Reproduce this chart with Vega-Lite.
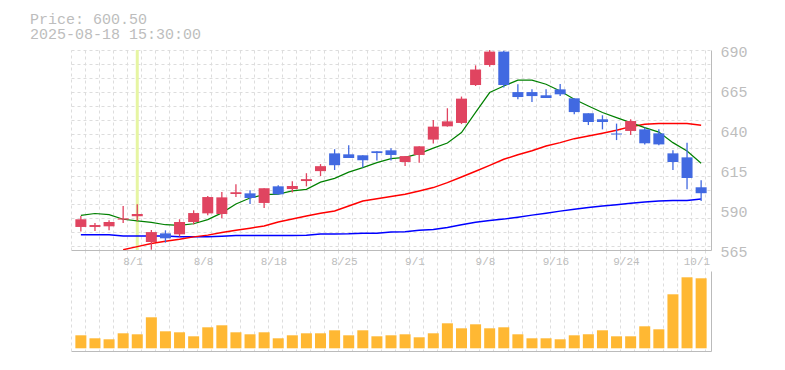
{
  "$schema": "https://vega.github.io/schema/vega-lite/v6.json",
  "padding": {"left": 30, "top": 11, "right": 5, "bottom": 5},
  "title": {"text": ["Price: 600.50", "2025-08-18 15:30:00"], "anchor": "start", "frame": "group", "dx": -41, "offset": 3, "font": "Liberation Mono", "fontSize": 15, "fontWeight": "normal", "color": "#bdbdbd", "lineHeight": 15},
  "config": {"view": {"stroke": null}},
  "spacing": 0,
  "data": {"values": [
    {"d": "7/28", "o": 579.4, "h": 586.3, "l": 576.5, "c": 584.2, "m5": 586.7, "m25": null, "m75": 574.6, "v": 260},
    {"d": "7/29", "o": 579.4, "h": 581.9, "l": 576.9, "c": 580.6, "m5": 587.8, "m25": null, "m75": 574.6, "v": 200},
    {"d": "7/30", "o": 579.8, "h": 583.6, "l": 577.3, "c": 582.5, "m5": 587.1, "m25": null, "m75": 574.5, "v": 180},
    {"d": "7/31", "o": 584.0, "h": 592.5, "l": 581.9, "c": 584.8, "m5": 584.2, "m25": 565.2, "m75": 573.8, "v": 300},
    {"d": "8/1", "o": 586.1, "h": 593.6, "l": 583.1, "c": 587.5, "m5": 583.2, "m25": 567.1, "m75": 573.8, "v": 280},
    {"d": "8/4", "o": 570.0, "h": 577.5, "l": 565.2, "c": 576.2, "m5": 582.3, "m25": 569.0, "m75": 573.7, "v": 620},
    {"d": "8/5", "o": 575.4, "h": 577.3, "l": 569.6, "c": 572.3, "m5": 580.8, "m25": 570.4, "m75": 573.7, "v": 340},
    {"d": "8/6", "o": 574.8, "h": 584.2, "l": 573.4, "c": 582.5, "m5": 580.4, "m25": 571.7, "m75": 573.3, "v": 320},
    {"d": "8/7", "o": 582.5, "h": 589.8, "l": 581.0, "c": 588.1, "m5": 581.4, "m25": 573.2, "m75": 573.3, "v": 240},
    {"d": "8/8", "o": 587.9, "h": 598.7, "l": 586.7, "c": 598.1, "m5": 584.0, "m25": 574.3, "m75": 573.3, "v": 420},
    {"d": "8/12", "o": 587.5, "h": 601.2, "l": 584.8, "c": 597.9, "m5": 588.2, "m25": 575.9, "m75": 573.6, "v": 460},
    {"d": "8/13", "o": 600.0, "h": 606.1, "l": 598.1, "c": 601.1, "m5": 593.8, "m25": 577.3, "m75": 574.0, "v": 320},
    {"d": "8/14", "o": 600.4, "h": 602.4, "l": 593.7, "c": 597.5, "m5": 597.5, "m25": 578.6, "m75": 574.0, "v": 280},
    {"d": "8/15", "o": 594.4, "h": 603.6, "l": 591.2, "c": 603.6, "m5": 599.6, "m25": 580.0, "m75": 574.0, "v": 320},
    {"d": "8/18", "o": 604.8, "h": 605.5, "l": 599.5, "c": 599.8, "m5": 599.9, "m25": 582.5, "m75": 574.0, "v": 200},
    {"d": "8/19", "o": 603.1, "h": 608.0, "l": 600.9, "c": 605.0, "m5": 601.9, "m25": 584.4, "m75": 574.0, "v": 260},
    {"d": "8/20", "o": 608.1, "h": 613.0, "l": 604.8, "c": 609.3, "m5": 602.9, "m25": 586.2, "m75": 574.2, "v": 300},
    {"d": "8/21", "o": 614.3, "h": 618.7, "l": 611.2, "c": 617.4, "m5": 607.4, "m25": 587.9, "m75": 575.0, "v": 300},
    {"d": "8/22", "o": 625.4, "h": 628.0, "l": 615.0, "c": 618.0, "m5": 609.8, "m25": 589.4, "m75": 575.0, "v": 360},
    {"d": "8/25", "o": 624.8, "h": 630.4, "l": 622.5, "c": 622.5, "m5": 613.7, "m25": 592.5, "m75": 575.1, "v": 260},
    {"d": "8/26", "o": 624.2, "h": 624.2, "l": 616.5, "c": 621.1, "m5": 616.5, "m25": 595.6, "m75": 575.4, "v": 360},
    {"d": "8/27", "o": 626.7, "h": 626.7, "l": 620.9, "c": 625.6, "m5": 619.6, "m25": 597.1, "m75": 575.5, "v": 240},
    {"d": "8/28", "o": 627.3, "h": 628.6, "l": 620.9, "c": 624.4, "m5": 622.1, "m25": 598.4, "m75": 576.2, "v": 260},
    {"d": "8/29", "o": 620.0, "h": 623.7, "l": 617.5, "c": 623.7, "m5": 622.9, "m25": 599.8, "m75": 576.4, "v": 280},
    {"d": "9/1", "o": 624.4, "h": 629.8, "l": 619.6, "c": 629.8, "m5": 625.2, "m25": 601.9, "m75": 577.3, "v": 220},
    {"d": "9/2", "o": 634.0, "h": 646.2, "l": 631.5, "c": 642.1, "m5": 628.7, "m25": 604.0, "m75": 577.8, "v": 300},
    {"d": "9/3", "o": 642.3, "h": 653.6, "l": 642.1, "c": 645.4, "m5": 631.9, "m25": 607.1, "m75": 579.0, "v": 500},
    {"d": "9/4", "o": 644.4, "h": 660.9, "l": 643.7, "c": 659.6, "m5": 638.4, "m25": 610.6, "m75": 580.8, "v": 400},
    {"d": "9/5", "o": 668.1, "h": 680.4, "l": 667.5, "c": 677.8, "m5": 651.0, "m25": 614.2, "m75": 582.3, "v": 480},
    {"d": "9/8", "o": 680.6, "h": 690.0, "l": 679.6, "c": 689.0, "m5": 663.4, "m25": 617.9, "m75": 583.4, "v": 400},
    {"d": "9/9", "o": 689.0, "h": 689.5, "l": 666.5, "c": 668.1, "m5": 667.5, "m25": 621.7, "m75": 584.3, "v": 420},
    {"d": "9/10", "o": 663.7, "h": 668.6, "l": 659.2, "c": 660.6, "m5": 671.2, "m25": 624.5, "m75": 585.5, "v": 280},
    {"d": "9/11", "o": 663.7, "h": 665.4, "l": 657.5, "c": 661.2, "m5": 671.2, "m25": 627.0, "m75": 586.8, "v": 200},
    {"d": "9/12", "o": 661.7, "h": 665.4, "l": 660.0, "c": 660.0, "m5": 668.6, "m25": 630.0, "m75": 588.0, "v": 200},
    {"d": "9/16", "o": 665.4, "h": 668.7, "l": 661.2, "c": 662.3, "m5": 664.4, "m25": 632.1, "m75": 589.3, "v": 180},
    {"d": "9/17", "o": 659.8, "h": 659.8, "l": 649.8, "c": 651.2, "m5": 659.2, "m25": 634.6, "m75": 590.5, "v": 260},
    {"d": "9/18", "o": 650.4, "h": 650.4, "l": 643.1, "c": 645.0, "m5": 655.0, "m25": 636.2, "m75": 591.6, "v": 280},
    {"d": "9/19", "o": 646.7, "h": 649.2, "l": 640.4, "c": 645.0, "m5": 650.9, "m25": 637.9, "m75": 592.5, "v": 360},
    {"d": "9/22", "o": 637.8, "h": 644.0, "l": 633.7, "c": 637.2, "m5": 647.7, "m25": 639.8, "m75": 593.3, "v": 240},
    {"d": "9/24", "o": 639.4, "h": 646.7, "l": 636.9, "c": 645.6, "m5": 644.6, "m25": 642.1, "m75": 594.2, "v": 240},
    {"d": "9/25", "o": 640.4, "h": 641.5, "l": 631.0, "c": 631.7, "m5": 641.5, "m25": 643.6, "m75": 595.0, "v": 440},
    {"d": "9/26", "o": 637.9, "h": 640.4, "l": 630.4, "c": 631.0, "m5": 638.7, "m25": 644.0, "m75": 595.6, "v": 380},
    {"d": "9/29", "o": 625.4, "h": 627.3, "l": 615.0, "c": 620.0, "m5": 632.1, "m25": 644.0, "m75": 595.9, "v": 1080},
    {"d": "9/30", "o": 622.9, "h": 632.1, "l": 602.9, "c": 610.0, "m5": 626.9, "m25": 644.0, "m75": 596.0, "v": 1420},
    {"d": "10/1", "o": 604.2, "h": 608.6, "l": 595.6, "c": 600.5, "m5": 619.2, "m25": 643.0, "m75": 596.8, "v": 1400}
  ]},
  "vconcat": [
    {
      "width": 640,
      "height": 200,
      "encoding": {
        "x": {"field": "d", "type": "ordinal", "sort": null, "scale": {"type": "band", "paddingInner": 0, "paddingOuter": 0.2},
          "axis": {"orient": "bottom", "title": null, "domainColor": "#bbb", "grid": true, "gridColor": "#ddd", "gridDash": [3, 3], "bandPosition": 0.8,
            "ticks": true, "tickSize": 20, "tickColor": "#ddd", "tickDash": [3, 3], "tickWidth": 1,
            "labels": true,
            "labelExpr": "(datum.label == '8/1' || datum.label == '8/8' || datum.label == '8/18' || datum.label == '8/25' || datum.label == '9/1' || datum.label == '9/8' || datum.label == '9/16' || datum.label == '9/24' || datum.label == '10/1') ? datum.label : ''",
            "labelAngle": 0, "labelFont": "Liberation Mono", "labelFontSize": 11, "labelColor": "#bdbdbd", "labelPadding": -15, "labelOffset": -4.2, "labelOverlap": false}}
      },
      "layer": [
        {
          "mark": {"type": "rule", "color": "#e6f5a3", "strokeWidth": 3},
          "encoding": {
            "strokeOpacity": {"condition": {"test": "datum.d === '8/1'", "value": 1}, "value": 0}
          }
        },
        {
          "mark": {"type": "line", "color": "#0000ff", "strokeWidth": 1.5, "clip": true},
          "encoding": {
            "y": {"field": "m75", "type": "quantitative", "scale": {"domain": [565, 690], "nice": false, "zero": false},
              "axis": {"orient": "left", "title": null, "values": [690, 681.25, 672.5, 663.75, 655, 646.25, 637.5, 628.75, 620, 611.25, 602.5, 593.75, 585, 576.25, 567.5],
                "grid": true, "gridColor": "#ddd", "gridDash": [3, 3], "labels": false, "ticks": false, "domain": true, "domainColor": "#ddd", "domainDash": [3, 3]}}
          }
        },
        {
          "mark": {"type": "line", "color": "#ff0000", "strokeWidth": 1.5, "clip": true},
          "encoding": {
            "y": {"field": "m25", "type": "quantitative", "axis": null}
          }
        },
        {
          "mark": {"type": "line", "color": "#008000", "strokeWidth": 1.2, "clip": true},
          "encoding": {
            "y": {"field": "m5", "type": "quantitative", "axis": null}
          }
        },
        {
          "mark": {"type": "rule", "strokeWidth": 1.3, "clip": true},
          "encoding": {
            "y": {"field": "l", "type": "quantitative", "axis": null},
            "y2": {"field": "h"},
            "color": {"condition": {"test": "datum.c >= datum.o", "value": "#e04460"}, "value": "#4169e1"}
          }
        },
        {
          "mark": {"type": "bar", "size": 11, "clip": true},
          "encoding": {
            "y": {"field": "o", "type": "quantitative",
              "axis": {"orient": "right", "title": null, "values": [565, 590, 615, 640, 665, 690], "grid": false, "ticks": false, "domainColor": "#bbb",
                "labelFont": "Liberation Mono", "labelFontSize": 15, "labelColor": "#bdbdbd", "labelPadding": 9, "labelOffset": 1.5}},
            "y2": {"field": "c"},
            "color": {"condition": {"test": "datum.c >= datum.o", "value": "#e04460"}, "value": "#4169e1"}
          }
        }
      ]
    },
    {
      "width": 640,
      "height": 80,
      "layer": [
        {
          "mark": {"type": "bar", "size": 11, "color": "#ffb833"},
          "encoding": {
            "x": {"field": "d", "type": "ordinal", "sort": null, "scale": {"type": "band", "paddingInner": 0, "paddingOuter": 0.2},
              "axis": {"orient": "bottom", "title": null, "labels": false, "ticks": false, "domainColor": "#bbb", "grid": true, "gridColor": "#ddd", "gridDash": [3, 3], "bandPosition": 0.8}},
            "y": {"field": "v", "type": "quantitative", "scale": {"domain": [-54, 1546], "nice": false, "zero": false},
              "axis": {"orient": "right", "title": null, "labels": false, "ticks": false, "grid": false, "domainColor": "#bbb"}}
          }
        },
        {
          "mark": {"type": "rule", "opacity": 0},
          "encoding": {
            "y": {"datum": 0, "type": "quantitative",
              "axis": {"orient": "left", "title": null, "labels": false, "ticks": false, "grid": false, "domainColor": "#ddd", "domainDash": [3, 3]}}
          }
        }
      ]
    }
  ]
}
